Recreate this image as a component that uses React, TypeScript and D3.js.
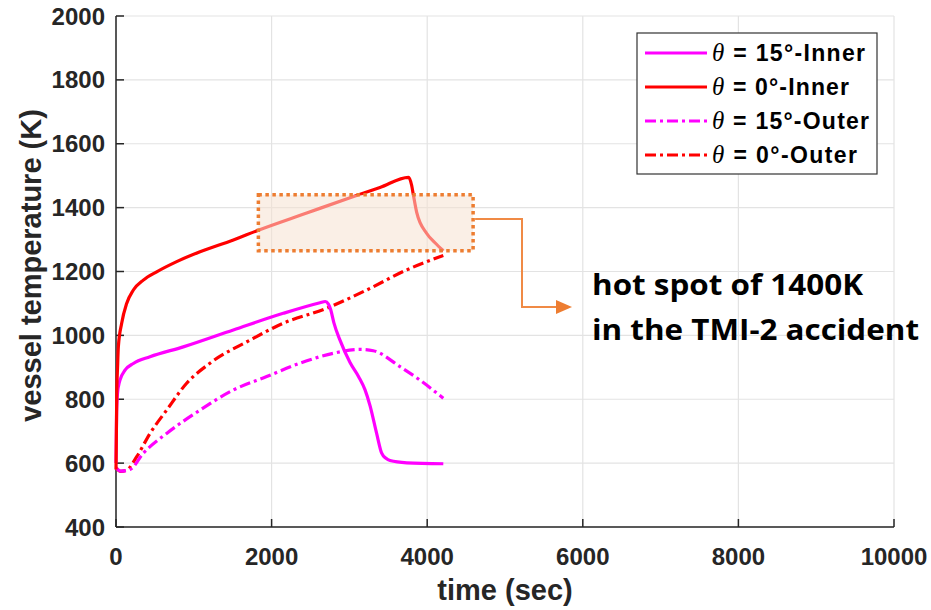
import React from "react";
import * as d3 from "d3";

const xTicks = [0, 2000, 4000, 6000, 8000, 10000];
const yTicks = [400, 600, 800, 1000, 1200, 1400, 1600, 1800, 2000];

// θ = 15°-Inner
const inner15Time = [0, 8, 20, 35, 51, 116, 223, 437, 865, 1508, 2150, 2622, 2690, 2730, 2760, 2800, 2879, 3008, 3120, 3200, 3265, 3350, 3415, 3470, 3522, 3737, 4207];
const inner15Temp = [600, 760, 820, 845, 860, 891, 912, 933, 964, 1017, 1069, 1102, 1106, 1098, 1080, 1040, 985, 915, 870, 830, 780, 693, 631, 615, 608, 601, 598];

// θ = 0°-Inner
const inner0Time = [0, 5, 10, 20, 30, 73, 137, 223, 351, 523, 780, 1080, 1500, 1838, 2451, 3008, 3393, 3760, 3800, 3822, 3865, 3994, 4100, 4207];
const inner0Temp = [580, 700, 820, 900, 964, 1038, 1100, 1142, 1173, 1199, 1231, 1262, 1298, 1330, 1383, 1431, 1463, 1495, 1470, 1440, 1385, 1319, 1290, 1265];

// θ = 15°-Outer
const outer15Time = [0, 60, 180, 351, 651, 1080, 1508, 1937, 2365, 2793, 3136, 3307, 3650, 3907, 4207];
const outer15Temp = [585, 575, 580, 631, 693, 766, 829, 871, 913, 944, 956, 952, 902, 860, 803];

// θ = 0°-Outer
const outer0Time = [0, 60, 137, 266, 437, 651, 908, 1208, 1722, 2150, 2708, 3222, 3737, 4207];
const outer0Temp = [585, 574, 578, 620, 693, 766, 850, 913, 985, 1038, 1085, 1142, 1205, 1250];

const seriesNames = ["15\u00B0-Inner", "0\u00B0-Inner", "15\u00B0-Outer", "0\u00B0-Outer"];
const seriesColors = ["#FF00FF", "#FF0000", "#FF00FF", "#FF0000"];
const seriesDashed = [false, false, true, true];
const legendTextWidths = [153, 137, 157, 145];

const hotSpotTime = [1830, 4590];
const hotSpotTemp = [1265, 1440];

const W = 931;
const H = 610;
const left = 116, right = 894, top = 16, bottom = 527;

export default function App() {
  const x = d3.scaleLinear().domain([0, 10000]).range([left, right]);
  const y = d3.scaleLinear().domain([400, 2000]).range([bottom, top]);
  const line = d3
    .line<[number, number]>()
    .x((d) => x(d[0]))
    .y((d) => y(d[1]))
    .curve(d3.curveMonotoneX);

  const series = [
    { t: inner15Time, v: inner15Temp },
    { t: inner0Time, v: inner0Temp },
    { t: outer15Time, v: outer15Temp },
    { t: outer0Time, v: outer0Temp },
  ];
  const drawOrder = [3, 2, 0, 1];

  const dash = "11 4 3 4";
  const axisColor = "#262626";
  const font = "'Liberation Sans', Arial, sans-serif";

  const bx0 = x(hotSpotTime[0]);
  const bx1 = x(hotSpotTime[1]);
  const by0 = y(hotSpotTemp[1]);
  const by1 = y(hotSpotTemp[0]);

  const legX = 637, legY = 33, legW = 240, legH = 141;
  const rowY = [53, 87, 121, 155];

  const arrowY = 307;
  const elbowX = 522;
  const tipX = 572;

  return (
    <svg
      width={W}
      height={H}
      style={{ position: "absolute", left: 0, top: 0, display: "block", background: "#fff" }}
      fontFamily={font}
    >
      <rect x={0} y={0} width={W} height={H} fill="#fff" />
      {/* grid */}
      {xTicks.map((t) => (
        <line key={"gx" + t} x1={x(t)} x2={x(t)} y1={top} y2={bottom} stroke="#E3E3E3" strokeWidth={1.2} />
      ))}
      {yTicks.map((t) => (
        <line key={"gy" + t} x1={left} x2={right} y1={y(t)} y2={y(t)} stroke="#E3E3E3" strokeWidth={1.2} />
      ))}
      {/* axes */}
      <line x1={left} x2={left} y1={top} y2={bottom} stroke={axisColor} strokeWidth={1.5} />
      <line x1={left} x2={right} y1={bottom} y2={bottom} stroke={axisColor} strokeWidth={1.5} />
      {xTicks.map((t) => (
        <line key={"tx" + t} x1={x(t)} x2={x(t)} y1={bottom} y2={bottom - 8} stroke={axisColor} strokeWidth={1.5} />
      ))}
      {yTicks.map((t) => (
        <line key={"ty" + t} x1={left} x2={left + 8} y1={y(t)} y2={y(t)} stroke={axisColor} strokeWidth={1.5} />
      ))}
      {xTicks.map((t) => (
        <text key={"lx" + t} x={x(t)} y={565} textAnchor="middle" fontSize={24} fontWeight="bold" fill={axisColor}>
          {t}
        </text>
      ))}
      {yTicks.map((t) => (
        <text key={"ly" + t} x={105} y={y(t) + 8.5} textAnchor="end" fontSize={24} fontWeight="bold" fill={axisColor}>
          {t}
        </text>
      ))}
      <text x={(left + right) / 2} y={600} textAnchor="middle" fontSize={29} fontWeight="bold" fill={axisColor}>
        time (sec)
      </text>
      <text
        transform={`translate(41,${(top + bottom) / 2 - 6}) rotate(-90)`}
        textAnchor="middle"
        fontSize={29}
        fontWeight="bold"
        fill={axisColor}
      >
        vessel temperature (K)
      </text>

      {/* series */}
      {drawOrder.map((i) => {
        const s = series[i];
        const pts = s.t.map((t, k) => [t, s.v[k]] as [number, number]);
        return (
          <path
            key={"s" + i}
            d={line(pts) || ""}
            fill="none"
            stroke={seriesColors[i]}
            strokeWidth={3.2}
            strokeDasharray={seriesDashed[i] ? dash : undefined}
            strokeLinejoin="round"
          />
        );
      })}

      {/* hot spot box */}
      <rect x={bx0} y={by0} width={bx1 - bx0} height={by1 - by0} fill="rgb(246,225,210)" fillOpacity={0.55} />
      <rect
        x={bx0}
        y={by0}
        width={bx1 - bx0}
        height={by1 - by0}
        fill="none"
        stroke="#ED7D31"
        strokeWidth={3.5}
        strokeDasharray="3.5 3.5"
      />
      <polyline
        points={`${bx1 + 2},219 ${elbowX},219 ${elbowX},${arrowY} ${tipX - 14},${arrowY}`}
        fill="none"
        stroke="#F08A45"
        strokeWidth={2}
      />
      <polygon points={`${tipX - 16},${arrowY - 7} ${tipX},${arrowY} ${tipX - 16},${arrowY + 7}`} fill="#ED7D31" />
      <text x={592} y={295} fontSize={29} fontWeight="bold" fill="#000" fontFamily="'Open Sans', 'Noto Sans', sans-serif" textLength={271} lengthAdjust="spacingAndGlyphs">
        hot spot of 1400K
      </text>
      <text x={592} y={340} fontSize={29} fontWeight="bold" fill="#000" fontFamily="'Open Sans', 'Noto Sans', sans-serif" textLength={327} lengthAdjust="spacingAndGlyphs">
        in the TMI-2 accident
      </text>

      {/* legend */}
      <rect x={legX} y={legY} width={legW} height={legH} fill="#fff" stroke="#333" strokeWidth={1.2} />
      {seriesNames.map((n, i) => (
        <g key={"lg" + i}>
          <line
            x1={645}
            x2={707}
            y1={rowY[i]}
            y2={rowY[i]}
            stroke={seriesColors[i]}
            strokeWidth={3.2}
            strokeDasharray={seriesDashed[i] ? dash : undefined}
          />
          <text
            x={712}
            y={rowY[i] + 8}
            fontSize={23}
            fontWeight="bold"
            fill="#000"
            textLength={legendTextWidths[i]}
            lengthAdjust="spacing"
          >
            <tspan fontFamily="'Liberation Serif', 'DejaVu Serif', serif" fontStyle="italic" fontWeight="normal" fontSize={25}>
              θ
            </tspan>
            <tspan>{" = " + n}</tspan>
          </text>
        </g>
      ))}
    </svg>
  );
}
